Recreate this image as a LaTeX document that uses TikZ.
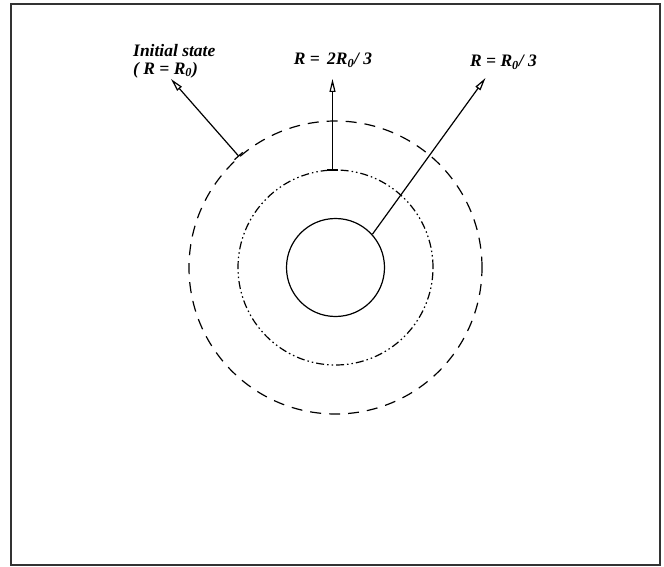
\documentclass[tikz,border=0pt]{standalone}
\usepackage{fontspec}
\setmainfont{Liberation Serif}
\usetikzlibrary{arrows.meta}
\begin{document}
\begin{tikzpicture}[x=1pt,y=-1pt,
  ring/.style={circle, draw, line width=1.2pt, inner sep=0pt},
  lab/.style={font=\fontsize{17.5}{18}\selectfont\bfseries\itshape, inner sep=0pt},
  ptr/.style={line width=1.2pt, -{Triangle[open,length=13pt,width=6pt]}},
  ptrbar/.style={line width=1.2pt, {Bar[width=11pt]}-{Triangle[open,length=13pt,width=6pt]}}
]
\useasboundingbox (0,0) rectangle (664,567);
\draw[line width=1.8pt, black!80] (11,4) rectangle (660,565);
\coordinate (c) at (335.5,267.5);
\node[ring, minimum size=98pt] (inner) at (c) {};
\node[ring, minimum size=195pt, dash pattern=on 8pt off 3pt on 1.5pt off 3pt on 1.5pt off 3pt] (mid) at (c) {};
\node[ring, minimum size=293pt, dash pattern=on 11pt off 8pt] (outer) at (c) {};
\node[lab, anchor=west, align=left] (l1) at (133,61) {Initial state\\( R = R\textsubscript{0})};
\node[lab] (l2) at (333,60) {R =\, 2R\textsubscript{0}/ 3};
\node[lab] (l3) at (503.5,62) {R = R\textsubscript{0}/ 3};
\coordinate (t1) at (171,79);
\coordinate (t2) at (332.5,79);
\coordinate (t3) at (485.5,78);
\coordinate (s2) at (332.5,170.5);
\draw[ptrbar] (outer.131) -- (t1);
\draw[ptrbar] (s2) -- (t2);
\draw[ptr] (inner.42) -- (t3);
\end{tikzpicture}
\end{document}
